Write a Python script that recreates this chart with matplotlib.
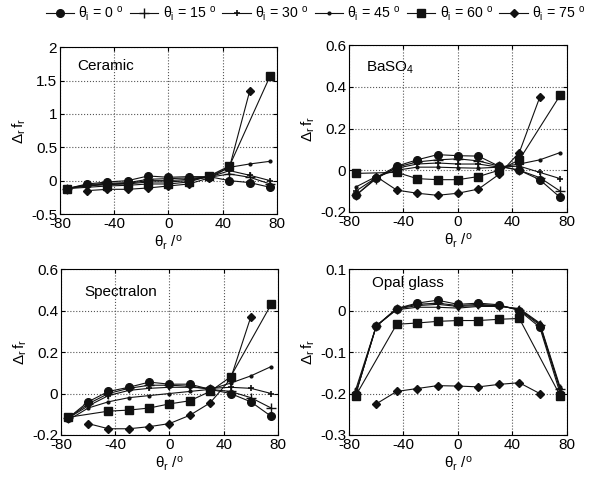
import numpy as np
import matplotlib
matplotlib.use("Agg")
import matplotlib.pyplot as plt
from matplotlib.lines import Line2D

plt.rcParams['font.family'] = ['Liberation Sans', 'DejaVu Sans']
plt.rcParams['mathtext.fontset'] = 'custom'
plt.rcParams['mathtext.rm'] = 'Liberation Sans'
plt.rcParams['mathtext.it'] = 'Liberation Sans'

theta_r = [-75, -60, -45, -30, -15, 0, 15, 30, 45, 60, 75]
incidence = ["0", "15", "30", "45", "60", "75"]
nan = np.nan

ceramic = {
    "0":  [-0.12, -0.05, -0.02, 0.00, 0.07, 0.05, 0.06, 0.06, 0.00, -0.03, -0.10],
    "15": [-0.12, -0.06, -0.04, -0.03, 0.02, 0.03, 0.04, 0.05, 0.10, 0.05, -0.05],
    "30": [-0.12, -0.07, -0.05, -0.04, 0.00, 0.00, 0.02, 0.05, 0.15, 0.08, 0.00],
    "45": [-0.12, -0.08, -0.06, -0.05, -0.02, -0.02, 0.00, 0.06, 0.20, 0.25, 0.29],
    "60": [-0.12, nan, -0.08, -0.07, -0.05, -0.05, -0.02, 0.07, 0.22, nan, 1.57],
    "75": [nan, -0.15, -0.13, -0.13, -0.11, -0.08, -0.05, 0.04, 0.20, 1.35, nan],
}
baso4 = {
    "0":  [-0.12, -0.035, 0.02, 0.05, 0.075, 0.07, 0.068, 0.02, 0.0, -0.045, -0.13],
    "15": [-0.12, -0.04, 0.015, 0.04, 0.05, 0.055, 0.045, 0.02, 0.0, -0.035, -0.10],
    "30": [-0.10, -0.035, 0.01, 0.03, 0.035, 0.03, 0.03, 0.015, 0.02, -0.01, -0.04],
    "45": [-0.08, -0.03, 0.0, 0.015, 0.015, 0.012, 0.01, 0.015, 0.03, 0.05, 0.085],
    "60": [-0.015, nan, -0.01, -0.04, -0.045, -0.045, -0.03, 0.0, 0.05, nan, 0.36],
    "75": [nan, -0.03, -0.095, -0.11, -0.12, -0.11, -0.09, -0.02, 0.085, 0.35, nan],
}
spectralon = {
    "0":  [-0.12, -0.04, 0.01, 0.03, 0.055, 0.045, 0.045, 0.02, 0.0, -0.04, -0.11],
    "15": [-0.12, -0.05, 0.0, 0.025, 0.04, 0.04, 0.035, 0.02, 0.01, -0.02, -0.07],
    "30": [-0.12, -0.06, -0.01, 0.015, 0.025, 0.03, 0.03, 0.025, 0.03, 0.025, 0.0],
    "45": [-0.13, -0.07, -0.04, -0.02, -0.01, 0.0, 0.01, 0.02, 0.05, 0.085, 0.13],
    "60": [-0.115, nan, -0.085, -0.08, -0.07, -0.05, -0.035, 0.01, 0.08, nan, 0.43],
    "75": [nan, -0.145, -0.17, -0.17, -0.16, -0.145, -0.105, -0.045, 0.07, 0.37, nan],
}
opal = {
    "0":  [-0.20, -0.038, 0.005, 0.018, 0.025, 0.015, 0.018, 0.014, 0.0, -0.04, -0.20],
    "15": [-0.20, -0.037, 0.005, 0.015, 0.018, 0.012, 0.015, 0.012, 0.002, -0.035, -0.19],
    "30": [-0.20, -0.037, 0.004, 0.012, 0.015, 0.010, 0.012, 0.012, 0.003, -0.032, -0.19],
    "45": [-0.19, -0.037, 0.002, 0.008, 0.008, 0.006, 0.010, 0.010, 0.005, -0.030, -0.185],
    "60": [-0.205, nan, -0.033, -0.030, -0.026, -0.024, -0.024, -0.021, -0.019, nan, -0.205],
    "75": [nan, -0.225, -0.195, -0.188, -0.181, -0.182, -0.184, -0.178, -0.174, -0.20, nan],
}

panels = [
    ("Ceramic", ceramic, (-0.5, 2), [-0.5, 0, 0.5, 1, 1.5, 2], ["-0.5", "0", "0.5", "1", "1.5", "2"]),
    (r"BaSO$_4$", baso4, (-0.2, 0.6), [-0.2, 0, 0.2, 0.4, 0.6], ["-0.2", "0", "0.2", "0.4", "0.6"]),
    ("Spectralon", spectralon, (-0.2, 0.6), [-0.2, 0, 0.2, 0.4, 0.6], ["-0.2", "0", "0.2", "0.4", "0.6"]),
    ("Opal glass", opal, (-0.3, 0.1), [-0.3, -0.2, -0.1, 0, 0.1], ["-0.3", "-0.2", "-0.1", "0", "0.1"]),
]
xticks = [-80, -40, 0, 40, 80]

styles = {
    "0":  dict(marker='o', ms=5.5),
    "15": dict(marker='+', ms=7, mew=1.0),
    "30": dict(marker='+', ms=4, mew=1.2),
    "45": dict(marker='.', ms=4),
    "60": dict(marker='s', ms=5.5),
    "75": dict(marker='D', ms=4.5),
}

positions = [
    [0.0998, 0.5523, 0.361, 0.349],
    [0.5807, 0.5565, 0.3627, 0.349],
    [0.1015, 0.0900, 0.361, 0.347],
    [0.5807, 0.0900, 0.3627, 0.347],
]
title_pos = [(0.08, 0.886), (0.078, 0.862), (0.106, 0.861), (0.105, 0.916)]

fig = plt.figure(figsize=(6.01, 4.78), dpi=100)
x = np.array(theta_r, dtype=float)
for (name, data, ylim, yt, ytl), pos, tp in zip(panels, positions, title_pos):
    ax = fig.add_axes(pos)
    for key in incidence:
        y = np.array(data[key], dtype=float)
        m = ~np.isnan(y)
        ax.plot(x[m], y[m], color='#111111', lw=0.8, mfc='#111111', mec='#111111', **styles[key])
    ax.set_xlim(-80, 80)
    ax.set_ylim(*ylim)
    ax.set_xticks(xticks)
    ax.set_xticklabels([str(v) for v in xticks])
    ax.set_yticks(yt)
    ax.set_yticklabels(ytl)
    ax.tick_params(direction='in', top=True, right=True, labelsize=11, length=3, pad=2)
    ax.grid(True, linestyle=':', color='#555555', lw=0.8)
    for s in ax.spines.values():
        s.set_linewidth(0.8)
    ax.text(tp[0], tp[1], name, transform=ax.transAxes, fontsize=11, va='center', ha='left')
    ax.set_xlabel(r'$\theta_{\rm r}$ /$^{\rm o}$', fontsize=11, labelpad=2)
    ax.set_ylabel(r'$\Delta_{\rm r}\, f_{\rm r}$', fontsize=11, labelpad=2)

handles = [Line2D([0], [0], color='#111111', lw=0.8, mfc='#111111', mec='#111111', **styles[k]) for k in incidence]
labels = [r'$\theta_{\rm i}$ = ' + k + r' $^{\rm o}$' for k in incidence]
fig.legend(handles, labels, loc='center', bbox_to_anchor=(0.525, 0.972), ncol=6, frameon=False,
           fontsize=10.2, handlelength=2.0, columnspacing=0.45, handletextpad=0.3, borderpad=0.1)

fig.savefig('out.png', dpi=100)
